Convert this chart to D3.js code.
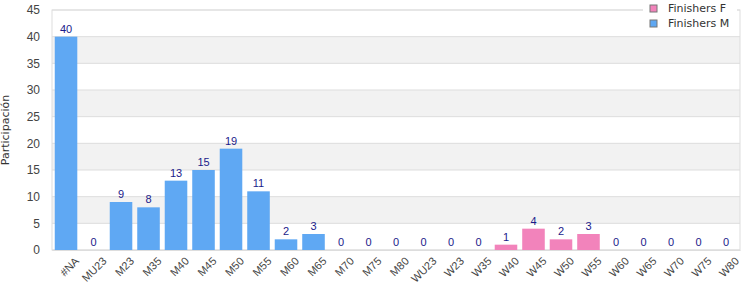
<!DOCTYPE html>
<html>
<meta charset="utf-8">
<script src="https://d3js.org/d3.v7.min.js"></script>
<style>
  body { margin: 0; background: #fff; }
</style>
<body>
<div id="my_dataviz"></div>
<script>
// categories and values
var categories = ["#NA","MU23","M23","M35","M40","M45","M50","M55","M60","M65","M70","M75","M80",
                  "WU23","W23","W35","W40","W45","W50","W55","W60","W65","W70","W75","W80"];
var finishersM = [40,0,9,8,13,15,19,11,2,3,0,0,0,null,null,null,null,null,null,null,null,null,null,null,null];
var finishersF = [null,null,null,null,null,null,null,null,null,null,null,null,null,0,0,0,1,4,2,3,0,0,0,0,0];
var yTicks = [0,5,10,15,20,25,30,35,40,45];
var seriesNames = ["Finishers F","Finishers M"];
var seriesColors = {"Finishers F": "#f283bb", "Finishers M": "#5fa8f3"};

var margin = {top: 10, right: 10, bottom: 50, left: 52},
    width = 750 - margin.left - margin.right,
    height = 300 - margin.top - margin.bottom;

var svg = d3.select("#my_dataviz")
  .append("svg")
    .attr("width", 750)
    .attr("height", 300)
  .append("g")
    .attr("transform", "translate(" + margin.left + "," + margin.top + ")");

var x = d3.scaleBand()
  .domain(categories)
  .range([0, width])
  .paddingInner(0.18)
  .paddingOuter(0.1);

var y = d3.scaleLinear()
  .domain([0, 45])
  .range([height, 0]);

// alternating bands
var bands = [];
for (var i = 0; i < yTicks.length - 1; i++) bands.push([yTicks[i], yTicks[i + 1], i]);
svg.selectAll("rect.band")
  .data(bands)
  .enter().append("rect")
    .attr("class", "band")
    .attr("x", 0)
    .attr("width", width)
    .attr("y", function(d) { return y(d[1]); })
    .attr("height", function(d) { return y(d[0]) - y(d[1]); })
    .attr("fill", function(d) { return d[2] % 2 == 1 ? "#f2f2f2" : "#ffffff"; });

// grid lines
svg.selectAll("line.grid")
  .data(yTicks)
  .enter().append("line")
    .attr("x1", 0).attr("x2", width)
    .attr("y1", function(d) { return y(d); })
    .attr("y2", function(d) { return y(d); })
    .attr("stroke", "#dddddd");

// border
svg.append("rect")
  .attr("width", width).attr("height", height)
  .attr("fill", "none").attr("stroke", "#dddddd");

// y axis
var yAxis = svg.append("g")
  .call(d3.axisLeft(y).tickValues(yTicks).tickSize(0).tickPadding(12));
yAxis.select(".domain").remove();
yAxis.selectAll("text")
  .style("font-family", "'Liberation Sans', Arial, sans-serif")
  .style("font-size", "12px")
  .attr("fill", "#444");

// x axis
var xAxis = svg.append("g")
  .attr("transform", "translate(0," + height + ")")
  .call(d3.axisBottom(x).tickSize(0).tickPadding(6));
xAxis.select(".domain").attr("stroke", "#dddddd");
xAxis.selectAll("text")
  .style("font-family", "'Liberation Sans', Arial, sans-serif")
  .style("font-size", "11px")
  .attr("fill", "#444")
  .style("text-anchor", "end")
  .attr("transform", "translate(4,2)rotate(-45)");

// y title
svg.append("text")
  .attr("transform", "rotate(-90)")
  .attr("x", -height / 2)
  .attr("y", 9 - margin.left)
  .attr("text-anchor", "middle")
  .style("font-family", "'DejaVu Sans', sans-serif")
  .style("font-size", "11px")
  .attr("fill", "#333")
  .text("Participación");

// bars
var rows = categories.map(function(c, i) {
  var s = finishersM[i] !== null ? "Finishers M" : "Finishers F";
  var v = finishersM[i] !== null ? finishersM[i] : finishersF[i];
  return {cat: c, series: s, value: v};
});

svg.selectAll("rect.bar")
  .data(rows)
  .enter().append("rect")
    .attr("class", "bar")
    .attr("x", function(d) { return x(d.cat); })
    .attr("y", function(d) { return y(d.value); })
    .attr("width", x.bandwidth())
    .attr("height", function(d) { return height - y(d.value); })
    .attr("fill", function(d) { return seriesColors[d.series]; });

svg.selectAll("text.val")
  .data(rows)
  .enter().append("text")
    .attr("class", "val")
    .attr("text-anchor", "middle")
    .style("font-family", "'Liberation Sans', Arial, sans-serif")
    .style("font-size", "11px")
    .attr("fill", "#1a1a8a")
    .attr("x", function(d) { return x(d.cat) + x.bandwidth() / 2; })
    .attr("y", function(d) { return y(d.value) - 4; })
    .text(function(d) { return d.value; });

// legend
var legend = d3.select("svg").append("g")
  .attr("transform", "translate(643,0)");
legend.append("rect")
  .attr("width", 94).attr("height", 34).attr("fill", "#fff");
var li = legend.selectAll("g.item")
  .data(seriesNames)
  .enter().append("g")
    .attr("class", "item")
    .attr("transform", function(d, i) { return "translate(7," + (5 + i * 15) + ")"; });
li.append("rect")
  .attr("width", 7).attr("height", 7)
  .attr("fill", function(d) { return seriesColors[d]; })
  .attr("stroke", "#777");
li.append("text")
  .attr("x", 18).attr("y", 7)
  .style("font-family", "'DejaVu Sans', sans-serif")
  .style("font-size", "11px")
  .attr("fill", "#333")
  .text(function(d) { return d; });
</script>
</body>
</html>
